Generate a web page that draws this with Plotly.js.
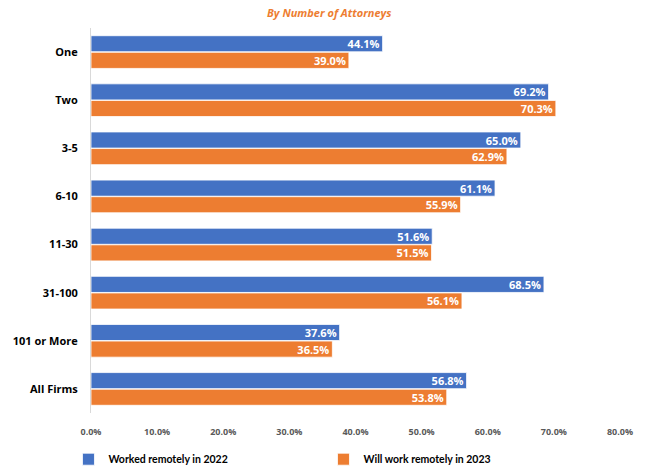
<!DOCTYPE html>
<html>
<head>
<meta charset="utf-8">
<script src="https://cdn.plot.ly/plotly-3.0.1.min.js"></script>
<style>html,body{margin:0;padding:0;background:#fff;}#chart{width:646px;height:470px;}</style>
</head>
<body>
<div id="chart"></div>
<script>
const categories = ["One", "Two", "3-5", "6-10", "11-30", "31-100", "101 or More", "All Firms"];
const worked2022 = [44.1, 69.2, 65.0, 61.1, 51.6, 68.5, 37.6, 56.8];
const will2023 = [39.0, 70.3, 62.9, 55.9, 51.5, 56.1, 36.5, 53.8];
const seriesNames = ["Worked remotely in 2022", "Will work remotely in 2023"];
const tickVals = [0, 10, 20, 30, 40, 50, 60, 70, 80];
const tickText = ["0.0%", "10.0%", "20.0%", "30.0%", "40.0%", "50.0%", "60.0%", "70.0%", "80.0%"];

const font = "Open Sans, Liberation Sans, Arial, sans-serif";
function trace(vals, name, color) {
  return {
    type: "bar", orientation: "h", y: categories, x: vals, name: name,
    marker: {color: color, line: {color: "#ffffff", width: 0.8}},
    text: vals.map(v => v.toFixed(1) + "%"),
    textposition: "inside", insidetextanchor: "end", constraintext: "none",
    textfont: {color: "#ffffff", size: 11, family: font, weight: "bold"},
    cliponaxis: false, hoverinfo: "none"
  };
}
const data = [trace(worked2022, seriesNames[0], "#4472C4"), trace(will2023, seriesNames[1], "#ED7D31")];
const layout = {
  width: 646, height: 470,
  margin: {l: 91, r: 26, t: 28, b: 57, autoexpand: false},
  paper_bgcolor: "#ffffff", plot_bgcolor: "#ffffff",
  barmode: "group", bargap: 0.31, bargroupgap: 0.03,
  showlegend: true,
  legend: {orientation: "h", xref: "container", x: 0.106, xanchor: "left", yref: "container", y: 0.023, yanchor: "middle",
           entrywidth: 210, traceorder: "normal",
           font: {size: 10.5, color: "#000000", family: "Lato, Open Sans, sans-serif", weight: "bold"},
           itemwidth: 30},
  xaxis: {range: [0, 80], tickvals: tickVals, ticktext: tickText, showgrid: false,
          zeroline: false, showline: false, ticks: "", automargin: false, ticklabelstandoff: 12,
          tickfont: {size: 9, color: "#595959", family: font, weight: "bold"}},
  yaxis: {autorange: "reversed", showgrid: false, zeroline: false, showline: true,
          linecolor: "#d9d9d9", linewidth: 1, ticks: "", ticklabelstandoff: 10, automargin: false,
          tickfont: {size: 11, color: "#000000", family: font, weight: "bold"}},
  annotations: [
    {text: "Percentage of Attorneys Working Remotely by Firm Size (2022, 2023)", xref: "paper", yref: "paper",
     x: 0.45, y: 1, yshift: 26, xanchor: "center", yanchor: "bottom", showarrow: false,
     font: {size: 15, color: "#000000", family: font, weight: "bold"}},
    {text: "<i>By Number of Attorneys</i>", xref: "paper", yref: "paper",
     x: 0.45, y: 1, yshift: 6, xanchor: "center", yanchor: "bottom", showarrow: false,
     font: {size: 11, color: "#ED7D31", family: font, weight: "bold"}}
  ]
};
Plotly.newPlot("chart", data, layout, {displayModeBar: false, staticPlot: true});
</script>
</body>
</html>
